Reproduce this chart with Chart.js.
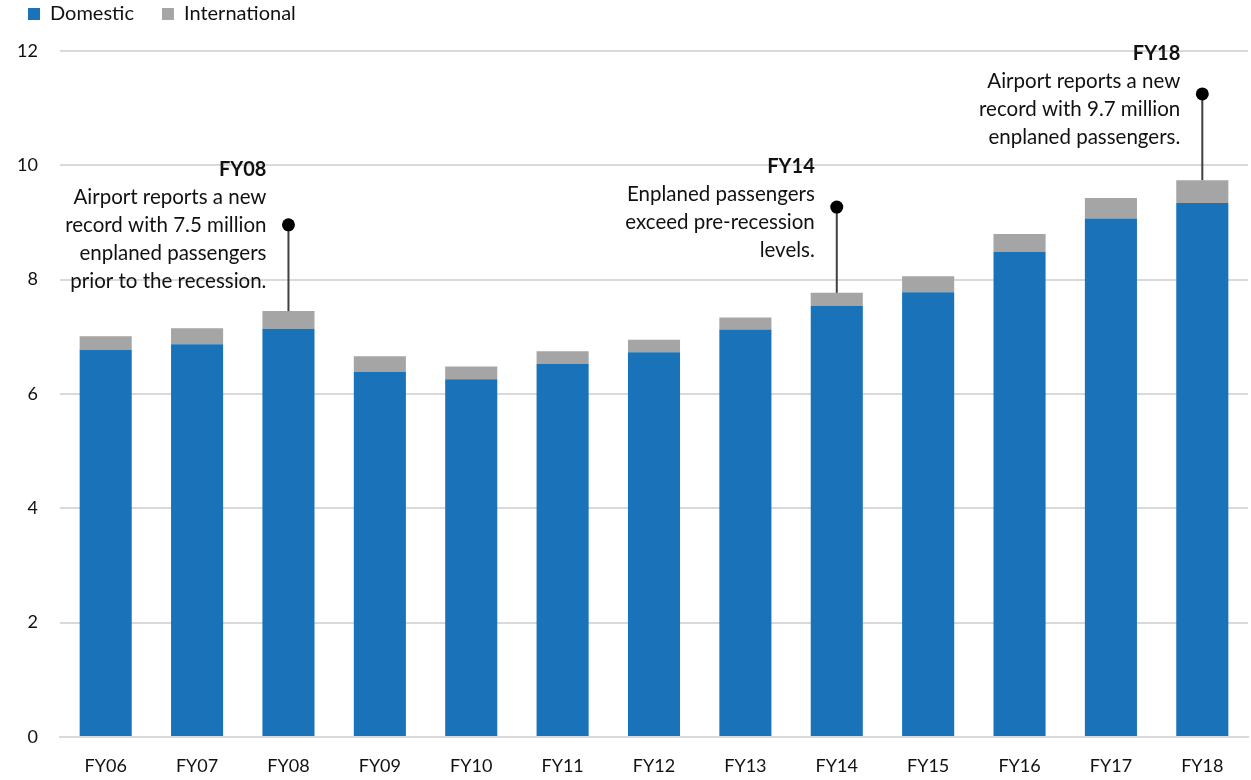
<!DOCTYPE html>
<html>
<head>
<meta charset="utf-8">
<script src="https://cdn.jsdelivr.net/npm/chart.js@4"></script>
<style>
  html, body { margin: 0; padding: 0; background: #fff; }
  #wrap { width: 1251px; height: 780px; position: relative; }
</style>
</head>
<body>
<div id="wrap"><canvas id="c" width="1251" height="780"></canvas></div>
<script>
// Enplaned passengers (millions) by fiscal year
const fiscalYears = ['FY06','FY07','FY08','FY09','FY10','FY11','FY12','FY13','FY14','FY15','FY16','FY17','FY18'];
const domestic      = [6.77, 6.87, 7.14, 6.39, 6.26, 6.53, 6.73, 7.13, 7.54, 7.78, 8.49, 9.07, 9.34];
const international = [0.24, 0.28, 0.31, 0.27, 0.22, 0.22, 0.22, 0.21, 0.23, 0.28, 0.31, 0.36, 0.40];
const yTicks = [0, 2, 4, 6, 8, 10, 12];

// Callout notes: category, height of the marker dot, title and body lines
const noteYears  = ['FY08', 'FY14', 'FY18'];
const noteDots   = [8.96, 9.27, 11.25];
const noteTitles = ['FY08', 'FY14', 'FY18'];
const noteLines  = [
  ['Airport reports a new', 'record with 7.5 million', 'enplaned passengers', 'prior to the recession.'],
  ['Enplaned passengers', 'exceed pre-recession', 'levels.'],
  ['Airport reports a new', 'record with 9.7 million', 'enplaned passengers.']
];

const FONT = 'Lato, "Open Sans", sans-serif';
const BLUE = '#1a73b9';
const GREY = '#a5a5a5';

// vertical offset (px) of each note's title above its dot
const titleOffsets = [-55, -41, -40];

const calloutPlugin = {
  id: 'callouts',
  afterDatasetsDraw(chart) {
    const ctx = chart.ctx;
    const xs = chart.scales.x, ys = chart.scales.y;
    noteYears.forEach((yr, i) => {
      const idx = fiscalYears.indexOf(yr);
      const cx = xs.getPixelForValue(idx);
      const top = ys.getPixelForValue(domestic[idx] + international[idx]);
      const dy = ys.getPixelForValue(noteDots[i]);
      ctx.save();
      ctx.strokeStyle = '#404040';
      ctx.lineWidth = 2;
      ctx.beginPath();
      ctx.moveTo(cx, dy);
      ctx.lineTo(cx, top);
      ctx.stroke();
      ctx.fillStyle = '#000';
      ctx.beginPath();
      ctx.arc(cx, dy, 6.5, 0, Math.PI * 2);
      ctx.fill();
      const right = cx - 22;
      const ty = dy + titleOffsets[i];
      ctx.textAlign = 'right';
      ctx.textBaseline = 'middle';
      ctx.fillStyle = '#111';
      ctx.font = 'bold 20px ' + FONT;
      ctx.fillText(noteTitles[i], right, ty);
      ctx.font = '20.5px ' + FONT;
      noteLines[i].forEach((ln, k) => ctx.fillText(ln, right, ty + 28 * (k + 1)));
      ctx.restore();
    });
  }
};

// reserve the legend row above the plot and lift the legend items into it
const legendSpace = {
  id: 'legendSpace',
  beforeInit(chart) {
    const fit = chart.legend.fit;
    chart.legend.fit = function () {
      fit.bind(chart.legend)();
      this.height = 51;
    };
  },
  afterLayout(chart) {
    chart.legend.top = -24;
  }
};

new Chart(document.getElementById('c'), {
  type: 'bar',
  data: {
    labels: fiscalYears,
    datasets: [
      { label: 'Domestic', data: domestic, backgroundColor: BLUE },
      { label: 'International', data: international, backgroundColor: GREY }
    ]
  },
  options: {
    responsive: false,
    animation: false,
    layout: { padding: { left: 0, right: 3, top: 0, bottom: 0 } },
    datasets: { bar: { categoryPercentage: 1, barPercentage: 0.57 } },
    plugins: {
      legend: {
        position: 'top',
        align: 'start',
        labels: {
          boxWidth: 12, boxHeight: 12, padding: 28,
          color: '#111',
          font: { family: FONT, size: 20 }
        }
      },
      tooltip: { enabled: false }
    },
    scales: {
      x: {
        stacked: true,
        grid: { display: false, drawTicks: false },
        border: { color: '#d9d9d9', width: 2 },
        ticks: { color: '#111', font: { family: FONT, size: 18 }, padding: 18, maxRotation: 0 },
        afterFit(s) { s.height = 43; }
      },
      y: {
        stacked: true,
        min: 0, max: 12,
        afterBuildTicks(s) { s.ticks = yTicks.map(v => ({ value: v })); },
        grid: { color: '#d9d9d9', lineWidth: 2, drawTicks: false },
        border: { display: false },
        ticks: { color: '#111', font: { family: FONT, size: 18 }, padding: 22 },
        afterFit(s) { s.width = 60; }
      }
    }
  },
  plugins: [calloutPlugin, legendSpace]
});
</script>
</body>
</html>
